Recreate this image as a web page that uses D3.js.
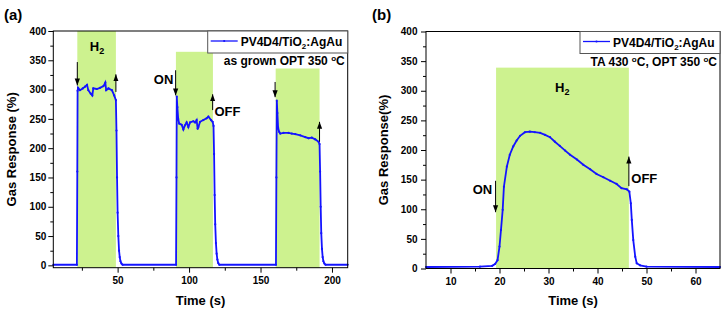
<!DOCTYPE html>
<html>
<head>
<meta charset="utf-8">
<script src="https://cdn.jsdelivr.net/npm/d3@7"></script>
<style>
  body { margin: 0; background: #fff; }
  svg text { font-family: "Liberation Sans", Arial, sans-serif; font-weight: bold; }
</style>
</head>
<body>
<div class="main"></div>
<script>
// panel (a): three H2 pulses, as grown
var timeA = [5, 21.5, 21.8, 22.0, 22.3, 23.7, 25.6, 27.2, 28.6, 29.5, 31.2, 32.3, 33.0, 35.4, 37.7, 40.1, 41.4, 42.0, 43.6, 46.0, 47.6, 48.8,
  49.2, 49.6, 50.0, 50.5, 51.0, 51.5, 52.0, 52.7, 53.5,
  90.9, 91.2, 91.4, 91.8, 92.4, 93.1, 94.8, 96.0, 97.1, 98.3, 99.5, 100.7, 103.0, 104.2, 105.3, 106.0, 106.5, 107.7, 110.0, 112.3, 113.5, 115.4, 116.5, 117.1,
  117.5, 117.9, 118.3, 118.8, 119.3, 119.8, 120.4, 121.2,
  160.8, 161.1, 161.4, 161.8, 162.3, 163.0, 163.8, 166.1, 169.6, 171.9, 174.3, 177.8, 181.3, 183.6, 185.9, 188.3, 190.6, 191.3,
  191.7, 192.1, 192.5, 193.0, 193.5, 194.0, 194.7, 195.5, 211];
var respA = [1, 1, 160, 298, 303, 299, 302, 305, 308, 299, 293, 290, 302, 301, 303, 306, 312, 299, 302, 299, 290, 282,
  230, 150, 90, 50, 25, 14, 7, 3, 1,
  1, 150, 288, 270, 250, 242, 240, 232, 239, 244, 236, 244, 246, 244, 248, 233, 236, 245, 248, 251, 254, 248, 245, 238,
  190, 120, 70, 38, 20, 10, 4, 1,
  1, 150, 281, 260, 235, 228, 225, 226, 226, 225, 224, 222, 219, 217, 218, 215, 211, 207,
  160, 100, 55, 28, 14, 7, 3, 1, 1];
var bandsA = [[21.8, 48.8, 400], [90.8, 116.7, 364.5], [160.6, 191.3, 336]];

// panel (b): single pulse after TA 430 C
var timeB = [5, 16.0, 18.5, 19.1, 19.6, 20.0, 20.3, 20.65, 20.9, 21.5, 22.1, 22.8, 23.5, 24.2, 25.2, 26.2, 27.2, 28.3, 29.3, 30.3, 31.3,
  32.3, 33.4, 34.4, 35.8, 37.1, 38.5, 39.8, 41.2, 42.6, 43.9, 44.9, 46.0, 46.5, 46.8, 47.0, 47.3, 47.7, 48.0, 48.7, 50, 65];
var respB = [2.5, 3, 4.5, 7.6, 14, 37, 65, 99, 138, 172, 192, 206, 216, 224, 230, 231, 230, 229, 225.5, 221.6, 214,
  207, 199, 192, 184, 175, 167.5, 159.6, 154, 148, 142.7, 135.5, 133.7, 129.7, 110, 82, 48, 20, 8.8, 5.4, 3, 2.5];
var bandsB = [[19.3, 46.4, 339]];

var yTicks = [0, 50, 100, 150, 200, 250, 300, 350, 400];
var yMinor = [25, 75, 125, 175, 225, 275, 325, 375];
var xTicksA = [50, 100, 150, 200], xMinorA = [25, 75, 125, 175];
var xTicksB = [10, 20, 30, 40, 50, 60], xMinorB = [15, 25, 35, 45, 55];

// arrows: [time, from, to]
var arrowsA = [[21.8, 347, 307], [48.8, 296, 326], [90.6, 333, 290], [116.5, 265, 292], [160.2, 313, 287], [191.3, 211, 245]];
var arrowsB = [[19.2, 148, 95], [46.4, 139, 189]];

var seriesName = "PV4D4/TiO";
var blue = "#1414ff", green = "#cdf28f";

var svg = d3.select(".main").append("svg").attr("width", 725).attr("height", 313);

svg.append("defs").append("marker")
  .attr("id", "head").attr("viewBox", "0 -3 7 6")
  .attr("refX", 7).attr("refY", 0)
  .attr("markerUnits", "userSpaceOnUse")
  .attr("markerWidth", 7).attr("markerHeight", 6)
  .attr("orient", "auto")
  .append("path").attr("d", "M0,-2.6L7,0L0,2.6Z").attr("fill", "#000");

function panel(p) {
  var x = d3.scaleLinear().domain(p.xDomain).range([p.left, p.right]);
  var y = d3.scaleLinear().domain(p.yDomain).range([p.bottom, p.top]);
  var g = svg.append("g");

  g.selectAll(".band").data(p.bands).enter().append("rect")
    .attr("x", function(d) { return x(d[0]); })
    .attr("width", function(d) { return x(d[1]) - x(d[0]); })
    .attr("y", function(d) { return y(d[2]); })
    .attr("height", function(d) { return p.bottom - y(d[2]); })
    .attr("fill", green);

  var pts = p.time.map(function(t, i) { return [t, p.resp[i]]; });
  g.append("path").datum(pts)
    .attr("fill", "none").attr("stroke", blue).attr("stroke-width", 1.8)
    .attr("d", d3.line().x(function(d) { return x(d[0]); }).y(function(d) { return y(d[1]); }));
  g.selectAll(".pt").data(pts).enter().append("circle")
    .attr("cx", function(d) { return x(d[0]); }).attr("cy", function(d) { return y(d[1]); })
    .attr("r", 1.1).attr("fill", blue);

  // frame
  g.append("rect").attr("x", p.left).attr("y", p.top)
    .attr("width", p.right - p.left).attr("height", p.bottom - p.top)
    .attr("fill", "none").attr("stroke", "#000").attr("stroke-width", 1);

  var ya = g.append("g").attr("transform", "translate(" + p.left + ",0)")
    .call(d3.axisLeft(y).tickValues(yTicks).tickSize(5).tickPadding(p.yPad));
  var ym = g.append("g").attr("transform", "translate(" + p.left + ",0)")
    .call(d3.axisLeft(y).tickValues(yMinor).tickSize(3).tickFormat(""));
  var xa = g.append("g").attr("transform", "translate(0," + p.bottom + ")")
    .call(d3.axisBottom(x).tickValues(p.xTicks).tickSize(5).tickPadding(4));
  var xm = g.append("g").attr("transform", "translate(0," + p.bottom + ")")
    .call(d3.axisBottom(x).tickValues(p.xMinor).tickSize(3).tickFormat(""));
  [ya, ym, xa, xm].forEach(function(a) {
    a.select(".domain").remove();
    a.selectAll("text").attr("font-size", 10).attr("font-family", null).attr("fill", "#000");
  });

  // axis titles
  g.append("text").attr("transform", "translate(" + p.yTitleX + "," + ((p.top + p.bottom) / 2) + ") rotate(-90)")
    .attr("text-anchor", "middle").attr("dy", "0.35em").attr("font-size", 13).text(p.yTitle);
  g.append("text").attr("x", (p.left + p.right) / 2).attr("y", 305)
    .attr("text-anchor", "middle").attr("font-size", 13).text("Time (s)");

  // panel label
  g.append("text").attr("x", p.labelX).attr("y", 20).attr("font-size", 15).text(p.label);

  // legend
  var lw = 140;
  g.append("rect").attr("x", p.right - lw).attr("y", p.top)
    .attr("width", lw).attr("height", 22).attr("fill", "#fff").attr("stroke", "#555").attr("stroke-width", 1);
  g.append("line").attr("x1", p.right - lw + 3).attr("x2", p.right - lw + 30)
    .attr("y1", p.top + 10).attr("y2", p.top + 10).attr("stroke", blue).attr("stroke-width", 1.3);
  g.append("circle").attr("cx", p.right - lw + 16.5).attr("cy", p.top + 10).attr("r", 1.1).attr("fill", blue);
  var lt = g.append("text").attr("x", p.right - lw + 33).attr("y", p.top + 15).attr("font-size", 12);
  lt.append("tspan").text(seriesName);
  lt.append("tspan").attr("font-size", 8).attr("dy", 3).text("2");
  lt.append("tspan").attr("dy", -3).text(":AgAu");

  // condition line
  var ct = g.append("text").attr("x", p.right - 3).attr("y", p.top + 34).attr("text-anchor", "end").attr("font-size", 12);
  p.cond.forEach(function(c) {
    ct.append("tspan").text(c[0]);
    ct.append("tspan").attr("font-size", 8).attr("dy", -4).text("o");
    ct.append("tspan").attr("dy", 4).text(c[1]);
  });

  // H2 label
  var ht = g.append("text").attr("x", x(p.h2[0])).attr("y", y(p.h2[1]))
    .attr("text-anchor", "middle").attr("font-size", 13);
  ht.append("tspan").text("H");
  ht.append("tspan").attr("font-size", 9).attr("dy", 3).text("2");

  // arrows
  g.selectAll(".arr").data(p.arrows).enter().append("line")
    .attr("x1", function(d) { return x(d[0]); }).attr("x2", function(d) { return x(d[0]); })
    .attr("y1", function(d) { return y(d[1]); }).attr("y2", function(d) { return y(d[2]); })
    .attr("stroke", "#000").attr("stroke-width", 1).attr("marker-end", "url(#head)");

  g.append("text").attr("x", x(p.on[0])).attr("y", y(p.on[1])).attr("dy", "0.36em")
    .attr("text-anchor", "end").attr("font-size", 13).text("ON");
  g.append("text").attr("x", x(p.off[0])).attr("y", y(p.off[1])).attr("dy", "0.36em")
    .attr("font-size", 13).text("OFF");
}

panel({
  left: 53.3, right: 347.7, top: 31, bottom: 267.7,
  xDomain: [5, 211], yDomain: [-4, 400],
  xTicks: xTicksA, xMinor: xMinorA, yPad: 2,
  time: timeA, resp: respA, bands: bandsA, arrows: arrowsA,
  yTitle: "Gas Response (%)", yTitleX: 11, label: "(a)", labelX: 4,
  cond: [["as grown OPT 350 ", "C"]],
  h2: [35.6, 366], on: [89, 318], off: [117.8, 263]
});

panel({
  left: 426, right: 720, top: 31.5, bottom: 268.5,
  xDomain: [5, 65], yDomain: [0, 400],
  xTicks: xTicksB, xMinor: xMinorB, yPad: 3.5,
  time: timeB, resp: respB, bands: bandsB, arrows: arrowsB,
  yTitle: "Gas Response(%)", yTitleX: 383, label: "(b)", labelX: 372,
  cond: [["TA 430 ", "C, "], ["OPT 350 ", "C"]],
  h2: [32.8, 298], on: [18.5, 133], off: [46.9, 153]
});
</script>
</body>
</html>
